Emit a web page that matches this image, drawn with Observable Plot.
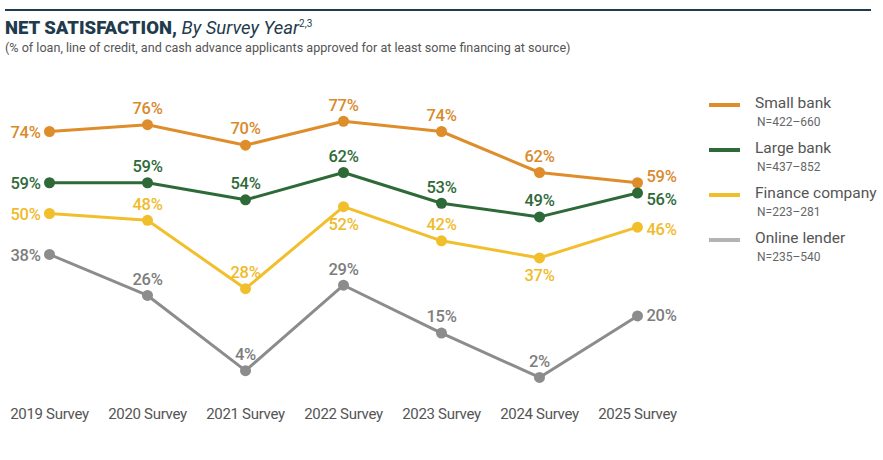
<!DOCTYPE html>
<html><head><meta charset="utf-8">
<script src="https://cdn.jsdelivr.net/npm/d3@7"></script>
<script src="https://cdn.jsdelivr.net/npm/@observablehq/plot@0.6"></script>
<style>
body{margin:0;background:#fff;font-family:Roboto,"Noto Sans",sans-serif;width:883px;height:460px;position:relative;overflow:hidden}
#rule{position:absolute;left:5px;top:9px;width:866px;height:2px;background:#1f3b4d}
#title{position:absolute;left:5px;top:17px;font-size:18.5px;color:#1f3b4d;white-space:nowrap}
#title b{font-weight:900}
#title i{font-weight:400}
#title sup{font-size:10px}
#sub{position:absolute;left:5px;top:40px;font-size:12.6px;color:#555;white-space:nowrap}
#chart{position:absolute;left:0;top:60px}
#legend{position:absolute;left:709px;top:94px}
.li{position:relative;height:45px}
.sw{position:absolute;left:0;top:9px;width:31px;height:4px}
.ln{position:absolute;left:46px;top:0;font-size:15.5px;color:#555;white-space:nowrap}
.nn{position:absolute;left:48px;top:21px;font-size:12px;color:#666;white-space:nowrap}
</style></head><body>
<div id="rule"></div>
<div id="title"><b>NET SATISFACTION,</b> <i>By Survey Year</i><sup>2,3</sup></div>
<div id="sub">(% of loan, line of credit, and cash advance applicants approved for at least some financing at source)</div>
<div id="chart"></div>
<div id="legend"></div>
<script>
const years = ["2019 Survey","2020 Survey","2021 Survey","2022 Survey","2023 Survey","2024 Survey","2025 Survey"];
const seriesNames = ["Small bank","Large bank","Finance company","Online lender"];
const seriesN = ["N=422–660","N=437–852","N=223–281","N=235–540"];
const smallBank = [74,76,70,77,74,62,59];
const largeBank = [59,59,54,62,53,49,56];
const financeCompany = [50,48,28,52,42,37,46];
const onlineLender = [38,26,4,29,15,2,20];

const colors = ["#df8d2b","#2e6a38","#f2bf2c","#8c8c8c"];
const legendColors = ["#df8d2b","#2e6a38","#f2bf2c","#b3b3b3"];
const labelColors = ["#d98a2c","#2e6a38","#efbb2a","#7d7d7d"];
// label placement (style only)
const below = {"Finance company|2022 Survey":true,"Finance company|2024 Survey":true};
const lastDy = {"Small bank":-6,"Large bank":7,"Finance company":3,"Online lender":0};

const allValues = [smallBank,largeBank,financeCompany,onlineLender];
const data = [];
seriesNames.forEach((s,si)=>years.forEach((y,i)=>data.push({series:s,year:y,value:allValues[si][i],idx:i})));

const lab = d => d.value + "%";
const mid = data.filter(d=>d.idx>0&&d.idx<6);
const midAbove = mid.filter(d=>!below[d.series+"|"+d.year]);
const midBelow = mid.filter(d=>below[d.series+"|"+d.year]);
const first = data.filter(d=>d.idx===0);
const last = data.filter(d=>d.idx===6);

const textOpts = {x:"year",y:"value",text:lab,fontSize:16.5,fontWeight:500,fill:d=>labelColors[seriesNames.indexOf(d.series)]};
const lastMarks = seriesNames.map(s=>Plot.text(last.filter(d=>d.series===s),{...textOpts,textAnchor:"start",dx:9,dy:lastDy[s]}));

const chart = Plot.plot({
  width:700,height:400,
  marginLeft:48,marginRight:62,marginTop:50.5,marginBottom:76.2,
  style:{fontFamily:"Roboto, sans-serif",overflow:"visible",letterSpacing:"-0.3px"},
  x:{type:"point",domain:years,padding:0,label:null},
  y:{domain:[0,80],axis:null},
  color:{domain:seriesNames,range:colors},
  marks:[
    Plot.axisX({tickSize:0,tickPadding:24,fontSize:15,fill:"#555",label:null}),
    Plot.line(data,{x:"year",y:"value",z:"series",stroke:"series",strokeWidth:3}),
    Plot.dot(data,{x:"year",y:"value",fill:"series",r:5.5,stroke:"none"}),
    Plot.text(midAbove,{...textOpts,dy:-16}),
    Plot.text(midBelow,{...textOpts,dy:18}),
    Plot.text(first,{...textOpts,textAnchor:"end",dx:-9,dy:1}),
    ...lastMarks
  ]
});
document.getElementById("chart").appendChild(chart);

const lg = document.getElementById("legend");
seriesNames.forEach((s,i)=>{
  const d = document.createElement("div"); d.className="li";
  d.innerHTML = `<div class="sw" style="background:${legendColors[i]}"></div><div class="ln">${s}</div><div class="nn">${seriesN[i]}</div>`;
  lg.appendChild(d);
});
</script>
</body></html>
